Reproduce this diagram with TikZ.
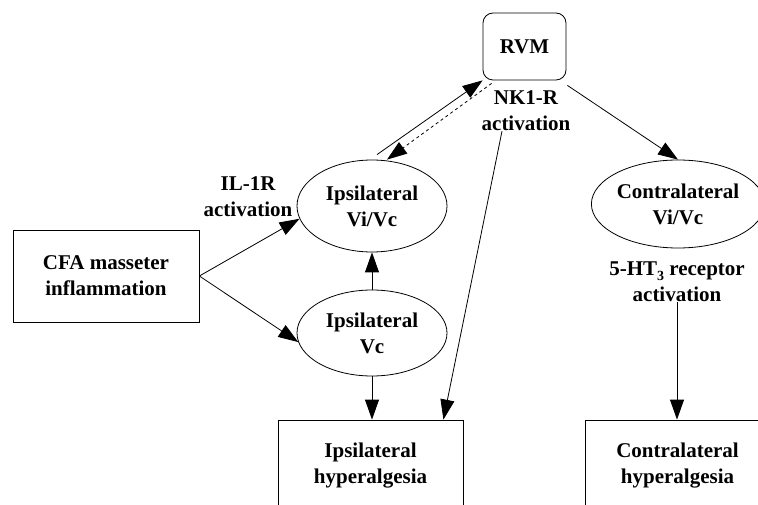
\documentclass[tikz,border=0pt]{standalone}
\usepackage{fontspec}
\setmainfont{Liberation Serif}
\usetikzlibrary{arrows.meta,shapes.geometric}
\begin{document}
\begin{tikzpicture}[x=1pt,y=-1pt,
  lbl/.style={font=\fontsize{21}{26}\selectfont\bfseries, align=center, inner sep=0pt},
  boxn/.style={lbl, draw, line width=0.8pt, rectangle},
  ell/.style={lbl, draw, line width=0.8pt, ellipse, minimum width=150pt},
  arr/.style={line width=0.8pt, -{Triangle[length=20pt,width=14pt]}}]
\useasboundingbox (0,0) rectangle (758,505);
\clip (0,0) rectangle (758,505);
\node[boxn, rounded corners=10pt, minimum width=83pt, minimum height=67pt] (rvm) at (524.5,46.5) {RVM};
\node[lbl] (nk) at (526,111) {NK1-R\\activation};
\node[boxn, minimum width=186pt, minimum height=92pt] (cfa) at (106,276) {CFA masseter\\inflammation};
\node[lbl] (il) at (248,197) {IL-1R\\activation};
\node[ell, minimum height=92pt] (ivi) at (372,206) {Ipsilateral\\Vi/Vc};
\node[ell, minimum height=86pt] (ivc) at (372,333) {Ipsilateral\\Vc};
\node[ell, minimum height=88pt] (cvi) at (678,204) {Contralateral\\Vi/Vc};
\node[lbl] (ht) at (677,282) {5-HT\raisebox{-5pt}{\fontsize{14}{14}\selectfont 3} receptor\\activation};
\node[boxn, minimum width=185pt, minimum height=92pt] (ihyp) at (370.5,466) {Ipsilateral\\hyperalgesia};
\node[boxn, minimum width=185pt, minimum height=92pt] (chyp) at (677.5,466) {Contralateral\\hyperalgesia};
\draw[arr] (cfa.east) -- (ivi.190);
\draw[arr] (cfa.east) -- (ivc.187);
\draw[arr] (ivc.north) -- (ivi.south);
\draw[arr] (ivc.south) -- (ivc.south |- ihyp.north);
\draw[arr] ([shift={(5,-5)}]ivi.north) -- (rvm.south west);
\draw[arr, dashed] ([shift={(9,3)}]rvm.south west) -- ([xshift=15pt]ivi.north);
\draw[arr] ([xshift=-24pt]nk.south) -- ([xshift=-20pt]ihyp.north east);
\draw[arr] ([shift={(1,5)}]rvm.south east) -- (cvi.north);
\draw[arr] (ht.south) -- (ht.south |- chyp.north);
\end{tikzpicture}
\end{document}
